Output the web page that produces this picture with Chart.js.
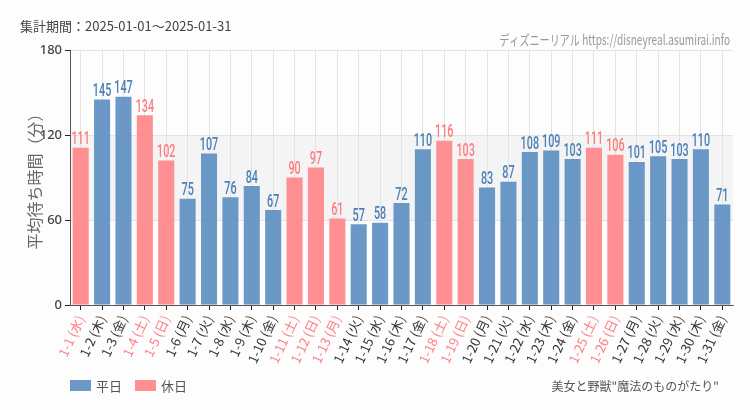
<!DOCTYPE html>
<html>
<head>
<meta charset="utf-8">
<script src="https://cdn.jsdelivr.net/npm/chart.js@4"></script>
<style>
  html, body { margin: 0; padding: 0; background: #fcfdfc; }
  #wrap { width: 750px; height: 410px; }
</style>
</head>
<body>
<div id="wrap"><canvas id="waitChart" width="750" height="410"></canvas></div>
<script>
// January 2025 average wait times
const days     = ['1-1','1-2','1-3','1-4','1-5','1-6','1-7','1-8','1-9','1-10','1-11','1-12','1-13','1-14','1-15','1-16',
                  '1-17','1-18','1-19','1-20','1-21','1-22','1-23','1-24','1-25','1-26','1-27','1-28','1-29','1-30','1-31'];
const weekdays = ['水','木','金','土','日','月','火','水','木','金','土','日','月','火','水','木',
                  '金','土','日','月','火','水','木','金','土','日','月','火','水','木','金'];
const waits    = [111,145,147,134,102,75,107,76,84,67,90,97,61,57,58,72,
                  110,116,103,83,87,108,109,103,111,106,101,105,103,110,71];
const holidays = ['1-1','1-4','1-5','1-11','1-12','1-13','1-18','1-19','1-25','1-26'];
const yTicks   = [0, 60, 120, 180];

const BLUE = 'rgba(94,143,194,0.92)';
const PINK = 'rgba(255,133,138,0.92)';
const BLUE_TXT = '#4d80b8';
const PINK_TXT = '#ff7c82';

const isHoliday = i => holidays.includes(days[i]);
const labels = days.map((d, i) => `${d} (${weekdays[i]})`);
const weekdayData = waits.map((v, i) => isHoliday(i) ? null : v);
const holidayData = waits.map((v, i) => isHoliday(i) ? v : null);

// squeezed text, no condensed font installed
function narrowText(ctx, text, x, y, sx) {
  ctx.save();
  ctx.translate(x, y);
  ctx.scale(sx, 1);
  ctx.fillText(text, 0, 0);
  ctx.restore();
}

// background band, value labels and the loose texts
const extras = {
  id: 'extras',
  beforeDraw(chart) {
    const { ctx, chartArea, scales: { y } } = chart;
    ctx.save();
    ctx.fillStyle = '#f3f4f3';
    const top = y.getPixelForValue(120), bot = y.getPixelForValue(60);
    ctx.fillRect(chartArea.left, top, chartArea.right - chartArea.left, bot - top);
    ctx.restore();
  },
  afterDatasetsDraw(chart) {
    const { ctx } = chart;
    ctx.save();
    ctx.font = '500 18px Roboto, sans-serif';
    ctx.textAlign = 'center';
    ctx.textBaseline = 'bottom';
    chart.data.datasets.forEach((ds, di) => {
      chart.getDatasetMeta(di).data.forEach((bar, i) => {
        if (ds.data[i] == null) return;
        ctx.fillStyle = di === 0 ? BLUE_TXT : PINK_TXT;
        narrowText(ctx, String(ds.data[i]), bar.x, bar.y + 1, 0.6);
      });
    });
    ctx.restore();
  },
  afterDraw(chart) {
    const { ctx } = chart;
    ctx.save();
    ctx.textBaseline = 'middle';
    ctx.font = '13px "Noto Sans CJK JP", sans-serif';
    ctx.fillStyle = '#444';
    ctx.textAlign = 'left';
    ctx.fillText('集計期間：2025-01-01～2025-01-31', 20, 26);

    ctx.font = '14px "Noto Sans CJK JP", sans-serif';
    ctx.fillStyle = '#999';
    ctx.textAlign = 'right';
    narrowText(ctx, 'ディズニーリアル https://disneyreal.asumirai.info', 730, 40, 0.72);

    ctx.font = '12px "Noto Sans CJK JP", sans-serif';
    ctx.fillStyle = '#555';
    ctx.fillText('美女と野獣"魔法のものがたり"', 719, 386);

    // legend
    ctx.font = '13px "Noto Sans CJK JP", sans-serif';
    ctx.textAlign = 'left';
    chart.data.datasets.forEach((ds, di) => {
      const x = 70 + di * 65;
      ctx.fillStyle = ds.backgroundColor;
      ctx.fillRect(x, 380, 21, 11);
      ctx.fillStyle = '#555';
      ctx.fillText(ds.label, x + 26, 386);
    });
    ctx.restore();
  }
};

new Chart(document.getElementById('waitChart').getContext('2d'), {
  type: 'bar',
  data: {
    labels,
    datasets: [
      { label: '平日', data: weekdayData, backgroundColor: BLUE },
      { label: '休日', data: holidayData, backgroundColor: PINK }
    ]
  },
  options: {
    responsive: false,
    animation: false,
    layout: { padding: { top: 50, right: 17, left: 0, bottom: 0 } },
    datasets: { bar: { grouped: false, barPercentage: 0.75, categoryPercentage: 1 } },
    plugins: { legend: { display: false }, tooltip: { enabled: false } },
    scales: {
      x: {
        offset: true,
        afterFit: s => { s.height = 105; },
        grid: { offset: false, color: '#e3e3e3', tickColor: '#222', tickLength: 5 },
        border: { color: '#555' },
        ticks: {
          autoSkip: false, minRotation: 65, maxRotation: 65, padding: 3,
          font: { family: '"Noto Sans CJK JP", sans-serif', size: 13 },
          color: c => isHoliday(c.index) ? PINK_TXT : '#333'
        }
      },
      y: {
        min: 0, max: 180,
        afterFit: s => { s.width = 70; },
        afterBuildTicks: s => { s.ticks = yTicks.map(v => ({ value: v })); },
        grid: { color: '#e3e3e3', tickColor: '#222', tickLength: 5 },
        border: { color: '#555' },
        ticks: { font: { family: '"Noto Sans", sans-serif', size: 13, weight: '500' }, color: '#444', padding: 3 },
        title: {
          display: true, text: '平均待ち時間（分）', color: '#666',
          font: { family: '"Noto Sans CJK JP", sans-serif', size: 16 },
          padding: { top: 25, bottom: 0 }
        }
      }
    }
  },
  plugins: [extras]
});
</script>
</body>
</html>
